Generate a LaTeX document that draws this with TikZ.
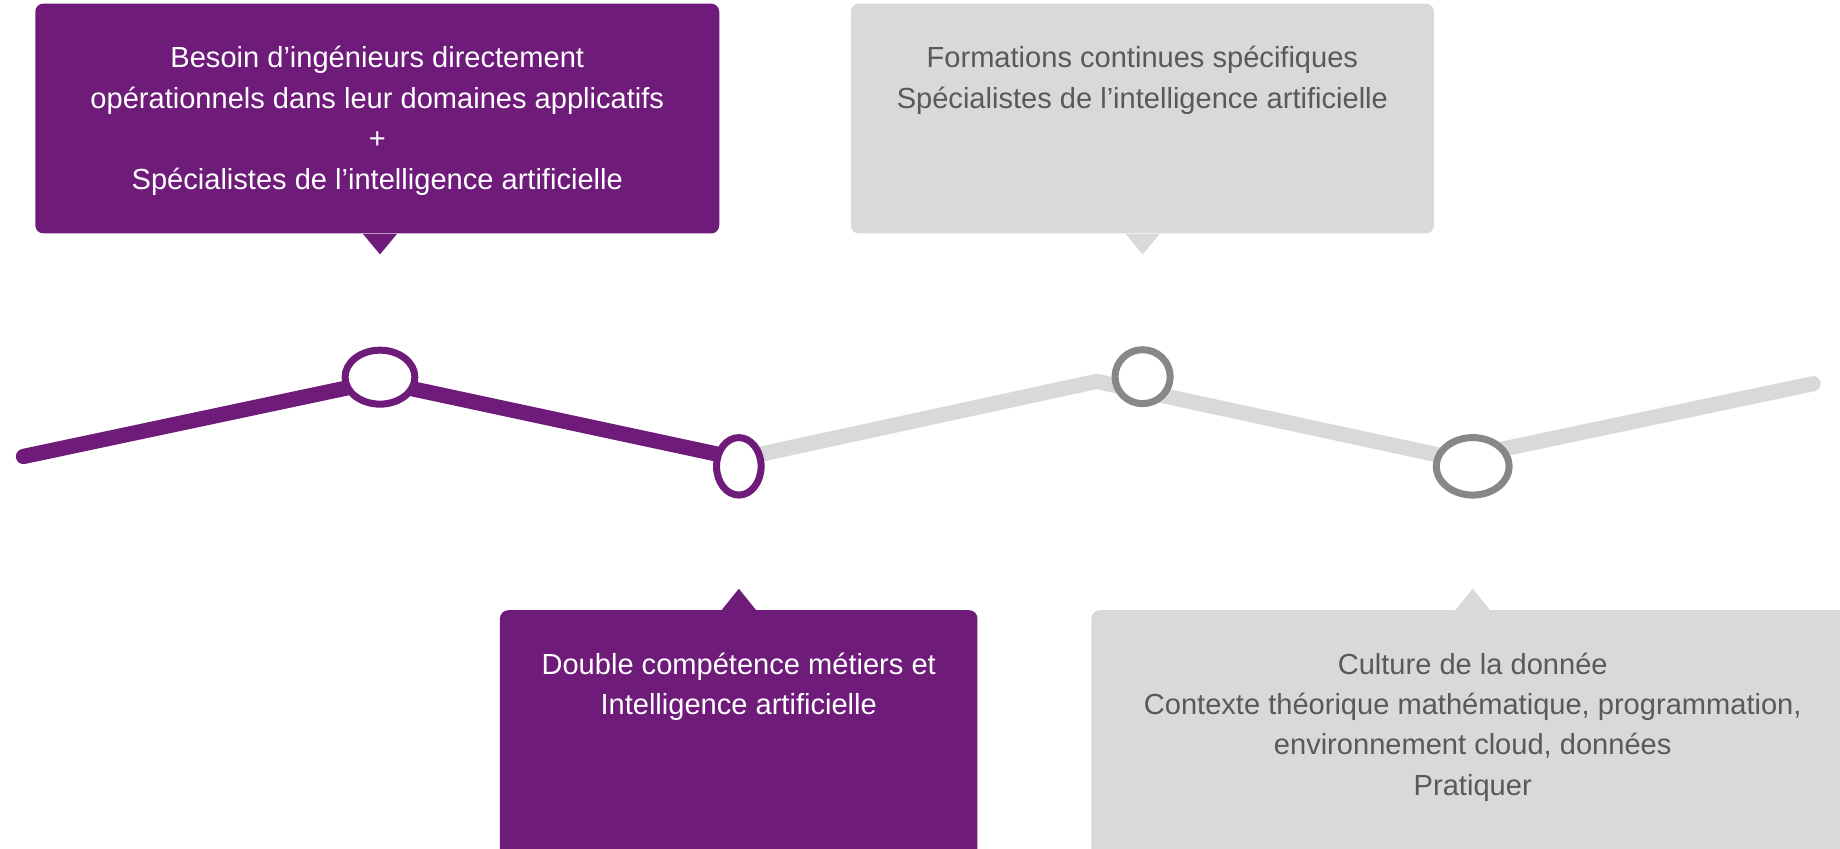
\documentclass[tikz,border=0pt]{standalone}
\usepackage{fontspec}
\setmainfont{Liberation Sans}
\usetikzlibrary{shapes.geometric}
\definecolor{prune}{RGB}{110,27,122}
\definecolor{grisclair}{RGB}{217,217,217}
\definecolor{grisanneau}{RGB}{135,135,135}
\definecolor{gristexte}{RGB}{89,89,89}

\begin{document}
\begin{tikzpicture}[x=0.02cm,y=-0.02cm,
    bulle/.style={rectangle,rounded corners=0.14cm,inner sep=0pt},
    anneau/.style={ellipse,line width=3.4pt,fill=white,inner sep=0pt},
    trait/.style={line width=7.4pt,line cap=round,line join=round},
    texte/.style={align=center,font=\fontsize{14.1}{19.6}\selectfont}]
  \useasboundingbox (0,0) rectangle (1568,723);
  \clip (0,0) rectangle (1568,723);

  % boxes
  \node[bulle,fill=prune,minimum width=11.66cm,minimum height=3.92cm] (b1) at (321.5,101) {};
  \node[bulle,fill=grisclair,minimum width=9.94cm,minimum height=3.92cm] (b2) at (973.5,101) {};
  \node[bulle,fill=prune,minimum width=8.14cm,minimum height=4.8cm] (b3) at (629.5,640) {};
  \node[bulle,fill=grisclair,minimum width=13.4cm,minimum height=4.8cm] (b4) at (1265,640) {};

  % path of the line
  \coordinate (p0) at (20,389);
  \coordinate (v1) at (322,325);
  \coordinate (p2) at (630,391);
  \coordinate (v3) at (934.5,325);
  \coordinate (v4) at (1241,391);
  \coordinate (p5) at (1545,327);
  \draw[trait,grisclair] (p2) -- (v3) -- (v4) -- (p5);
  \draw[trait,prune] (p0) -- (v1) -- (p2);

  % rings
  \node[anneau,draw=prune,minimum width=1.19cm,minimum height=0.92cm] (r1) at (323.8,321.4) {};
  \node[anneau,draw=prune,minimum width=0.76cm,minimum height=0.98cm] (r2) at (629.6,397.4) {};
  \node[anneau,draw=grisanneau,minimum width=0.94cm,minimum height=0.92cm] (r3) at (973.7,321) {};
  \node[anneau,draw=grisanneau,minimum width=1.24cm,minimum height=0.98cm] (r4) at (1255,397.4) {};

  % pointers
  \fill[prune] ([xshift=-0.29cm]r1 |- b1.south) -- ([xshift=0.29cm]r1 |- b1.south) -- ([yshift=-0.35cm]r1 |- b1.south) -- cycle;
  \fill[grisclair] ([xshift=-0.29cm]r3 |- b2.south) -- ([xshift=0.29cm]r3 |- b2.south) -- ([yshift=-0.35cm]r3 |- b2.south) -- cycle;
  \fill[prune] ([xshift=-0.29cm]r2 |- b3.north) -- ([xshift=0.29cm]r2 |- b3.north) -- ([yshift=0.36cm]r2 |- b3.north) -- cycle;
  \fill[grisclair] ([xshift=-0.29cm]r4 |- b4.north) -- ([xshift=0.29cm]r4 |- b4.north) -- ([yshift=0.36cm]r4 |- b4.north) -- cycle;

  % texts
  \node[texte,text=white] (t1) at (321.5,103) {Besoin d’ingénieurs directement\\opérationnels dans leur domaines applicatifs\\+\\Spécialistes de l’intelligence artificielle};
  \node[texte,text=gristexte] (t2) at (973.5,68.5) {Formations continues spécifiques\\Spécialistes de l’intelligence artificielle};
  \node[texte,text=white] (t3) at (629.5,585.5) {Double compétence métiers et\\Intelligence artificielle};
  \node[texte,text=gristexte] (t4) at (1255,619.5) {Culture de la donnée\\Contexte théorique mathématique, programmation,\\environnement cloud, données\\Pratiquer};
\end{tikzpicture}
\end{document}
